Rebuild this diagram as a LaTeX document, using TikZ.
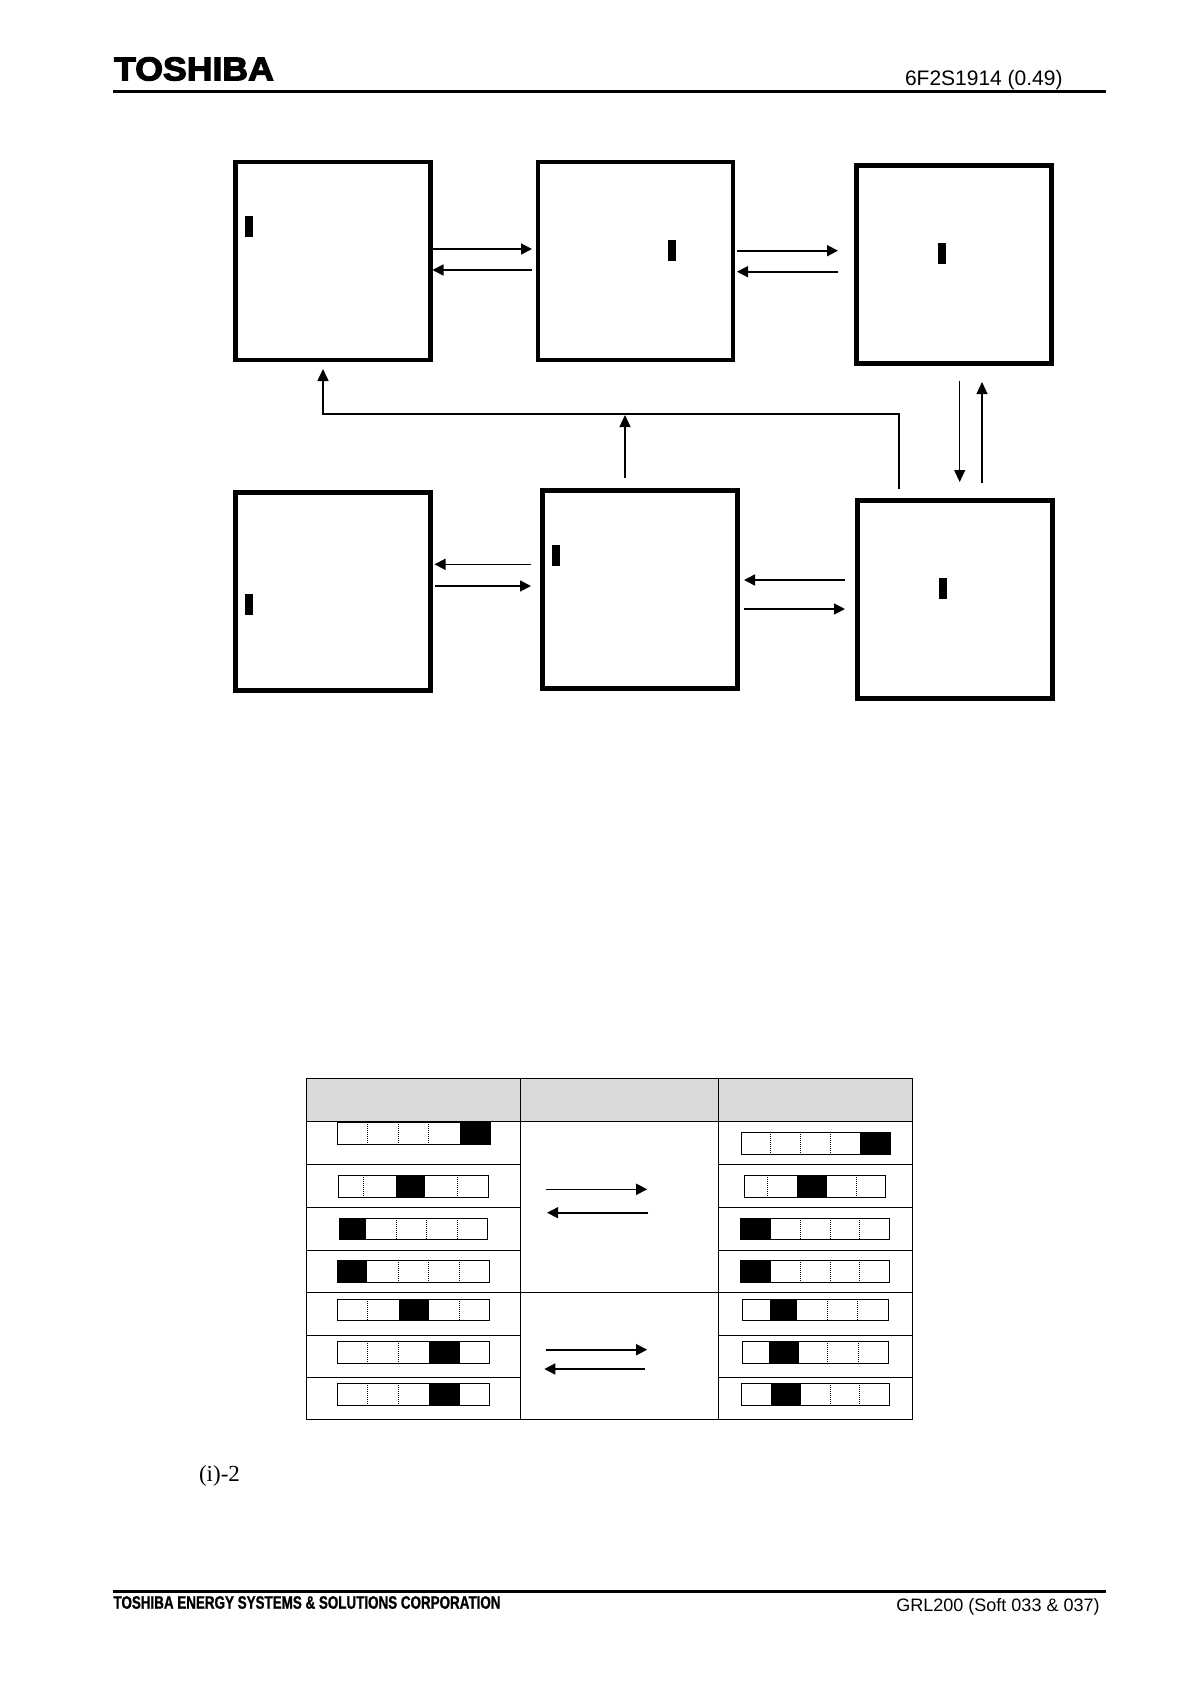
\documentclass[tikz,border=0pt]{standalone}
\usepackage{fontspec}
\setmainfont{Liberation Sans}
\newfontfamily\logofont[FakeBold=3.5,FakeStretch=1.08]{Liberation Sans Bold}
\newfontfamily\footfont[FakeBold=1,FakeStretch=0.745]{Liberation Sans Bold}
\newfontfamily\numfont{Liberation Serif}
\usepackage{xcolor}
\usetikzlibrary{arrows.meta,positioning}
\definecolor{headgray}{HTML}{D9D9D9}

\newcommand{\segbar}[7]{%
	\fill (#5,#3) rectangle (#6,#4);
	\draw[barline] (#1,#3) rectangle (#2,#4);
	\foreach \xd in {#7} \draw[barsep] (\xd,#3) -- (\xd,#4);
}

\begin{document}
\begin{tikzpicture}[
	x=1pt, y=-1pt,
	screen/.style={draw, line width=4.4pt, minimum width=195pt, minimum height=198pt, inner sep=0pt},
	cursor/.style={fill=black, minimum width=8pt, minimum height=21pt, inner sep=0pt},
	arrow/.style={-{Triangle[length=11pt,width=11pt]}, line width=1.6pt},
	vline/.style={-{Triangle[length=12pt,width=11pt]}, line width=1.2pt},
	rulebar/.style={line width=3pt},
	grid/.style={line width=1pt},
	barline/.style={line width=1pt},
	barsep/.style={line width=1pt, densely dotted}
	]
	\useasboundingbox (0,0) rectangle (1191,1684);
	
	\node[font=\logofont\fontsize{33}{33}\selectfont, inner sep=0pt] (logo) at (194,69) {TOSHIBA};
	\node[font=\fontsize{21}{21}\selectfont, inner sep=0pt] (docno) at (983.8,79.8) {6F2S1914 (0.49)};
	\draw[rulebar] (113,91.3) -- (1106,91.3);
	
	\node[screen] (A) at (332.8,261) {};
	\node[screen] (B) at (635.3,261) {};
	\node[screen] (C) at (954.1,264.5) {};
	\node[screen] (D) at (332.9,591.5) {};
	\node[screen] (E) at (639.9,589.5) {};
	\node[screen] (F) at (954.8,599.5) {};
	
	\node[cursor] (curA) at (248.7,226.5) {};
	\node[cursor] (curB) at (672,250) {};
	\node[cursor] (curC) at (942,253) {};
	\node[cursor] (curD) at (249,604.5) {};
	\node[cursor] (curE) at (555.5,555.5) {};
	\node[cursor] (curF) at (943,588.5) {};
	
	\coordinate (ab) at (532,249);
	\coordinate (ba) at (532,270);
	\draw[arrow] (A.east |- ab) -- (ab);
	\draw[arrow] (ba) -- (A.east |- ba);
	
	\coordinate (bc1) at (737,250.7);
	\coordinate (bc2) at (838,250.7);
	\coordinate (cb1) at (838,271.7);
	\coordinate (cb2) at (737,271.7);
	\draw[arrow] (bc1) -- (bc2);
	\draw[arrow] (cb1) -- (cb2);
	
	\coordinate (cf1) at (959.7,381);
	\coordinate (cf2) at (959.7,482);
	\coordinate (fc1) at (982,482.7);
	\coordinate (fc2) at (982,382);
	\draw[vline] (cf1) -- (cf2);
	\draw[vline] (fc1) -- (fc2);
	
	\coordinate (fa1) at (899,488.7);
	\coordinate (bend) at (323,413.7);
	\coordinate (fa2) at (323,369);
	\draw[vline, line width=1.6pt] (fa1) |- (bend) -- (fa2);
	
	\coordinate (eb1) at (625,477.7);
	\coordinate (eb2) at (625,415);
	\draw[vline] (eb1) -- (eb2);
	
	\coordinate (ed1) at (531,564.3);
	\coordinate (ed2) at (434.5,564.3);
	\coordinate (de1) at (434.5,586);
	\coordinate (de2) at (531,586);
	\draw[arrow] (ed1) -- (ed2);
	\draw[arrow] (de1) -- (de2);
	
	\coordinate (fe1) at (845,580);
	\coordinate (fe2) at (744,580);
	\coordinate (ef1) at (744,609);
	\coordinate (ef2) at (845,609);
	\draw[arrow] (fe1) -- (fe2);
	\draw[arrow] (ef1) -- (ef2);
	
	\fill[headgray] (306.8,1078.7) rectangle (912.5,1121.3);
	\draw[grid] (306.8,1078.7) rectangle (912.5,1419.3);
	\foreach \xl in {520.3,718.3}
	\draw[grid] (\xl,1078.7) -- (\xl,1419.3);
	\draw[grid] (306.8,1121.3) -- (912.5,1121.3);
	\draw[grid] (306.8,1292.3) -- (912.5,1292.3);
	\foreach \yl in {1164.3,1207.3,1250.3,1335.3,1377.3}{
		\draw[grid] (306.8,\yl) -- (520.3,\yl);
		\draw[grid] (718.3,\yl) -- (912.5,\yl);
	}
	
	\segbar{337.6}{490.2}{1122}{1144.7}{459.8}{490.2}{367.3,398.5,428.5}
	\segbar{338.4}{488.6}{1175.3}{1197.7}{395.7}{424.6}{363.3,457.8}
	\segbar{339.5}{487.4}{1218.3}{1239.7}{339.5}{365.7}{396.5,426.5,457.8}
	\segbar{337.6}{489.8}{1260.3}{1282.7}{337.6}{367.3}{398.5,428.5,459.8}
	\segbar{337.6}{489.8}{1299.3}{1320.7}{398.5}{428.5}{367.3,459.8}
	\segbar{337.6}{489.8}{1341.3}{1363.3}{428.5}{459.8}{367.3,398.5}
	\segbar{337.6}{489.8}{1383.3}{1405.3}{428.5}{459.8}{367.3,398.5}
	
	\segbar{741.3}{890}{1132.3}{1154.7}{859.9}{890}{770.6,800.6,830.3}
	\segbar{744.4}{885.6}{1175.3}{1197.7}{797.4}{826.7}{767.4,856.7}
	\segbar{740.9}{889.6}{1218.3}{1239.7}{740.9}{770.6}{800.6,830.3,859.9}
	\segbar{740.9}{889.6}{1260.3}{1282.7}{740.9}{770.6}{800.6,830.3,859.9}
	\segbar{742.5}{888.8}{1299.3}{1320.7}{770.2}{797.4}{827.5,857.5}
	\segbar{742.5}{888.8}{1341.3}{1363.3}{768.6}{798.6}{827.5,858.3}
	\segbar{741.3}{889.6}{1383.3}{1405.3}{770.6}{800.6}{830.3,859.5}
	
	\coordinate (up1) at (546,1189.3);
	\coordinate (up2) at (647.2,1189.3);
	\coordinate (dn1) at (648,1212.7);
	\coordinate (dn2) at (547.1,1212.7);
	\draw[arrow] (up1) -- (up2);
	\draw[arrow] (dn1) -- (dn2);
	
	\coordinate (up3) at (546.3,1349.7);
	\coordinate (up4) at (647.2,1349.7);
	\coordinate (dn3) at (644.8,1369);
	\coordinate (dn4) at (544.3,1369);
	\draw[arrow] (up3) -- (up4);
	\draw[arrow] (dn3) -- (dn4);
	
	\node[font=\numfont\fontsize{23}{23}\selectfont, inner sep=0pt] (fig) at (219.5,1476) {(i)-2};
	
	\draw[rulebar] (113,1591.5) -- (1106,1591.5);
	\node[font=\footfont\fontsize{18}{18}\selectfont, inner sep=0pt] (corp) at (307,1602.5) {TOSHIBA ENERGY SYSTEMS \& SOLUTIONS CORPORATION};
	\node[font=\fontsize{18}{18}\selectfont, inner sep=0pt] (soft) at (998,1607) {GRL200 (Soft 033 \& 037)};
	
\end{tikzpicture}
\end{document}
